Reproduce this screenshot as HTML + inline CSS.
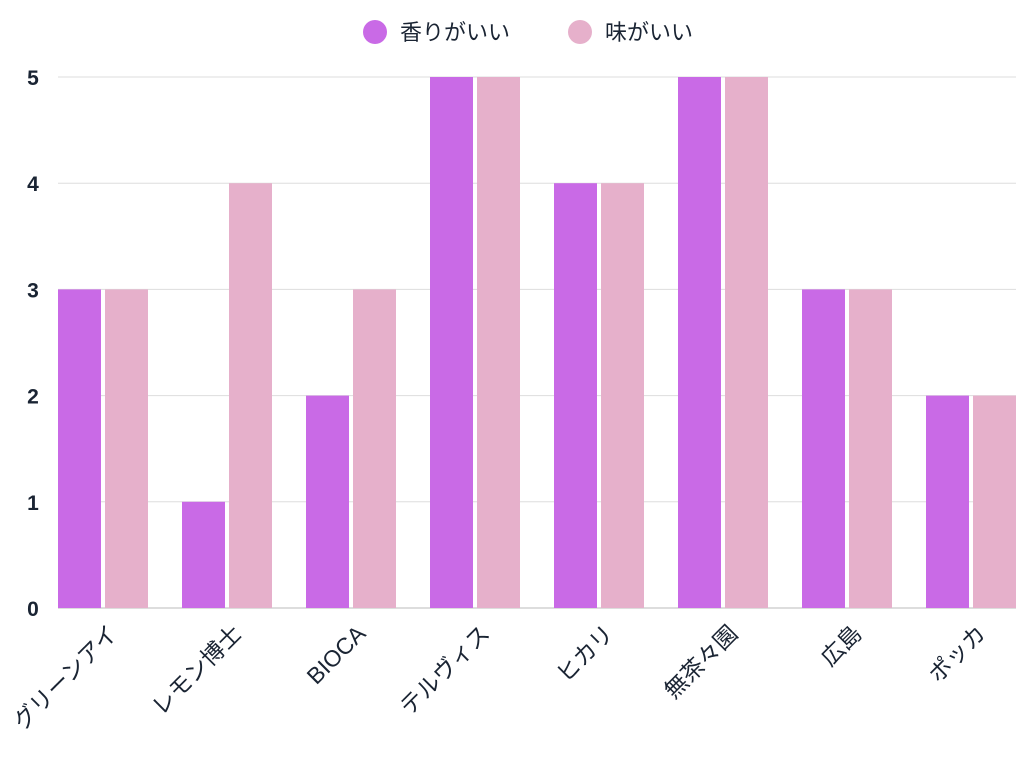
<!DOCTYPE html>
<html><head><meta charset="utf-8"><style>
body{margin:0;background:#fff;width:1024px;height:768px;overflow:hidden;font-family:"Liberation Sans","Noto Sans CJK JP",sans-serif}
</style></head><body>
<svg id="chart" width="1024" height="768" xmlns="http://www.w3.org/2000/svg"></svg>
<script>
const categories=["グリーンアイ","レモン博士","BIOCA","テルヴィス","ヒカリ","無茶々園","広島","ポッカ"];
const aroma=[3,1,2,5,4,5,3,2];
const taste=[3,4,3,5,4,5,3,2];
const yTicks=[0,1,2,3,4,5];
const seriesNames=["香りがいい","味がいい"];
const colors=["#c96ae6","#e6b0cb"];
const svg=document.getElementById('chart');
const NS="http://www.w3.org/2000/svg";
const x0=41,band=124,yBase=608,unit=106.2,gridL=58,gridR=1016;
const y=v=>yBase-v*unit;
const bx=i=>x0+i*band+62;
function mk(t,a,p){const e=document.createElementNS(NS,t);for(const k in a)e.setAttribute(k,a[k]);(p||svg).appendChild(e);return e;}
yTicks.forEach(t=>{
 const l=mk('line',{x1:gridL,x2:gridR,y1:y(t),y2:y(t),stroke:t===0?'#bbb':'#ddd','stroke-width':1});
 
 
 const tx=mk('text',{x:33,y:y(t)+8,'text-anchor':'middle','font-size':21,'font-weight':'bold',fill:'#1a2433'});
 tx.textContent=t;
 
 
});
categories.forEach((c,i)=>{
 const cx=bx(i);
 [aroma[i],taste[i]].forEach((v,s)=>{
  const r=mk('rect',{x:s===0?cx-45:cx+2,y:y(v),width:43,height:v*unit,fill:colors[s]});
  
  
 });
 const t=mk('text',{transform:`translate(${cx+16},${635}) rotate(-45)`,'text-anchor':'end','font-size':23,fill:'#1a2433'});
 t.textContent=c;
 
 
});
const lx=[375,580];
seriesNames.forEach((n,s)=>{
 const g=mk('g',{});
 
 
 mk('circle',{cx:lx[s],cy:32,r:12,fill:colors[s]},g);
 const t=mk('text',{x:lx[s]+25,y:40,'font-size':22,fill:'#1a2433'},g);
 t.textContent=n;
});
</script>
</body></html>
